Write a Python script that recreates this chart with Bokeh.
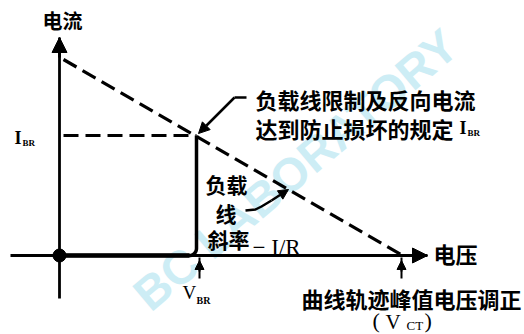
from bokeh.plotting import figure
from bokeh.models import Range1d, Arrow, NormalHead
from bokeh.core.properties import value
from bokeh.embed import file_html
from bokeh.resources import INLINE
import numpy as np

# ---- diagram values (arbitrary units, origin = 0 V / 0 A) ----
V_BR = 137          # breakdown voltage
V_CT = 343          # curve-tracer peak voltage setting
I_BR = 120          # specified reverse current limit
I_SC = 198          # load-line intercept on the current axis (V_CT / R)
X_AXIS = [-49, 368] # voltage axis extent
Y_AXIS = [-43, 218] # current axis extent

axis_titles = ["电流", "电压"]
note_limit = ["负载线限制及反向电流", "达到防止损坏的规定"]
note_load = ["负载", "线", "斜率"]
slope_text = "− I/R"
note_vct = "曲线轨迹峰值电压调正"
watermark = "BC LABORATORY"

CJK = value("Noto Sans CJK SC")
SERIF = value("Liberation Serif")

p = figure(width=524, height=334, x_range=Range1d(-59, 465), y_range=Range1d(-79, 255),
           output_backend="svg", toolbar_location=None, min_border=0,
           x_axis_type=None, y_axis_type=None)
p.grid.visible = False
p.outline_line_color = None
p.background_fill_color = "white"

# watermark
p.text(x=[236], y=[86], text=[watermark], angle=0.70, text_font=value("Liberation Sans"),
       text_font_style="bold", text_font_size="47px", text_color="#cdedf5",
       text_align="center", text_baseline="middle")

# axes
p.line(x=X_AXIS, y=[0, 0], line_color="black", line_width=2.8)
p.line(x=[0, 0], y=Y_AXIS, line_color="black", line_width=2.8)
p.add_layout(Arrow(end=NormalHead(size=15, fill_color="black", line_color="black"),
                   x_start=X_AXIS[1] - 20, y_start=0, x_end=X_AXIS[1], y_end=0,
                   line_color="black", line_width=2.8))
p.add_layout(Arrow(end=NormalHead(size=15, fill_color="black", line_color="black"),
                   x_start=0, y_start=Y_AXIS[1] - 20, x_end=0, y_end=Y_AXIS[1],
                   line_color="black", line_width=2.8))

# load line (dashed)
p.line(x=[4, V_CT], y=[I_SC - 2, 0], line_color="black", line_width=3.2, line_dash="15 7")
# I_BR level (dashed)
p.line(x=[4, V_BR], y=[I_BR, I_BR], line_color="black", line_width=3.2, line_dash="15 7")

# device characteristic: flat along axis, rounded knee, vertical at V_BR
r = 7
th = np.linspace(-np.pi / 2, 0, 12)
cx = list(np.concatenate([[0], V_BR - r + r * np.cos(th), [V_BR]]))
cy = list(np.concatenate([[0], r + r * np.sin(th), [I_BR]]))
p.line(x=cx, y=cy, line_color="black", line_width=3.5, line_join="round")
p.line(x=[0, V_BR - r], y=[0, 0], line_color="black", line_width=4.5)
p.scatter(x=[0], y=[0], size=13, color="black")

# marker arrows below axis
for xv in (V_BR + 3, V_CT - 1):
    p.line(x=[xv, xv], y=[-23, -2], line_color="black", line_width=2)
    p.add_layout(Arrow(end=NormalHead(size=9, fill_color="black", line_color="black"),
                       x_start=xv, y_start=-16, x_end=xv, y_end=-5,
                       line_color="black", line_width=2))

# leader to intersection
p.line(x=[175, 187], y=[158, 158], line_color="black", line_width=2.5)
p.add_layout(Arrow(end=NormalHead(size=11, fill_color="black", line_color="black"),
                   x_start=175, y_start=158, x_end=V_BR + 2, y_end=I_BR + 2,
                   line_color="black", line_width=2.5))
# leader to load line
p.line(x=[186, 196, 202, 212], y=[45, 46, 49, 55], line_color="black", line_width=2.5)
p.add_layout(Arrow(end=NormalHead(size=10, fill_color="black", line_color="black"),
                   x_start=212, y_start=55, x_end=229, y_end=66,
                   line_color="black", line_width=2.5))

bold = dict(text_font=CJK, text_font_style="bold", text_color="black", text_baseline="middle")
serif = dict(text_font=SERIF, text_color="black", text_align="left", text_baseline="middle")

# axis titles
p.text(x=[3], y=[235], text=[axis_titles[0]], text_font_size="20px", text_align="center", **bold)
p.text(x=[374], y=[3], text=[axis_titles[1]], text_font_size="22px", text_align="left", **bold)

# I_BR on current axis
p.text(x=[-45], y=[118], text=["I"], text_font_size="18px", text_font_style="bold", **serif)
p.text(x=[-37], y=[113], text=["BR"], text_font_size="9px", text_font_style="bold", **serif)

# V_BR label
p.text(x=[123], y=[-37], text=["V"], text_font_size="19px", **serif)
p.text(x=[137], y=[-45], text=["BR"], text_font_size="10px", text_font_style="bold", **serif)

# limit note
p.text(x=[196, 196], y=[157, 128], text=note_limit, text_font_size="22px", text_align="left", **bold)
p.text(x=[400], y=[128], text=["I"], text_font_size="18px", text_font_style="bold", **serif)
p.text(x=[408], y=[123], text=["BR"], text_font_size="9px", text_font_style="bold", **serif)

# load line note
p.text(x=[146, 156, 148], y=[72, 43, 17], text=note_load, text_font_size="21px", text_align="left", **bold)
p.text(x=[193], y=[8], text=[slope_text], text_font=SERIF, text_font_size="23px",
       text_align="left", text_baseline="alphabetic", text_color="black")

# V_CT note
p.text(x=[242], y=[-42], text=[note_vct], text_font_size="22px", text_align="left", **bold)
p.text(x=[313], y=[-65], text=["("], text_font_size="22px", **serif)
p.text(x=[326], y=[-66], text=["V"], text_font_size="21px", **serif)
p.text(x=[347], y=[-70], text=["CT"], text_font_size="13px", **serif)
p.text(x=[365], y=[-65], text=[")"], text_font_size="22px", **serif)

open("out.html", "w").write(file_html(p, INLINE))
